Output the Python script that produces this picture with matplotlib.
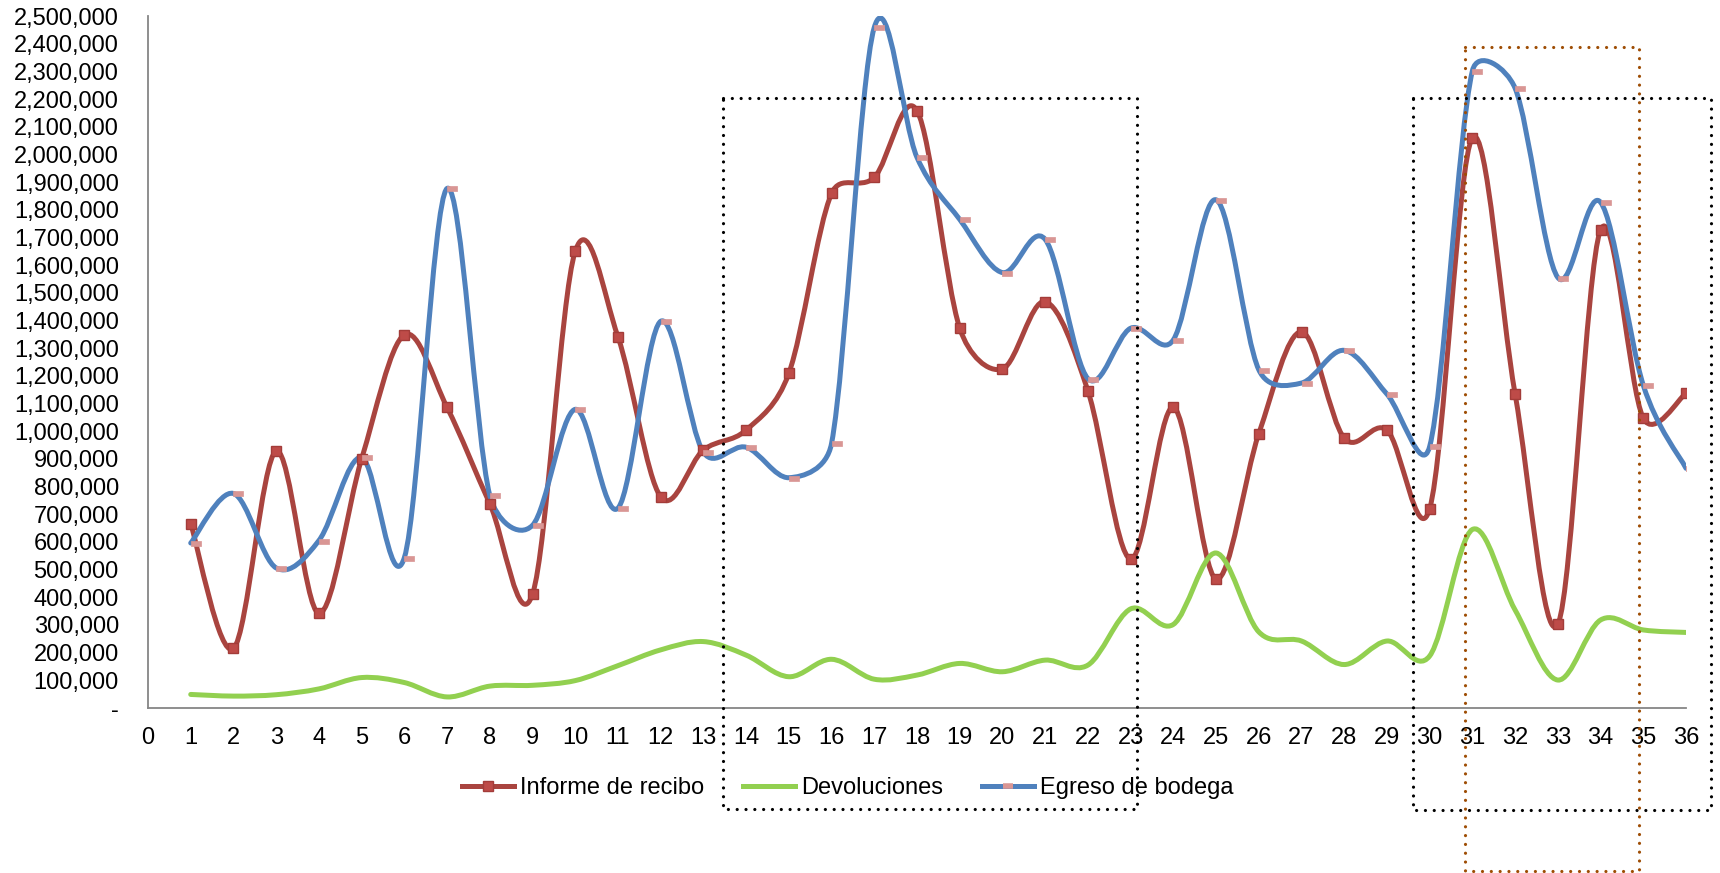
import numpy as np
import matplotlib.pyplot as plt
from matplotlib.path import Path
from matplotlib.patches import PathPatch
from matplotlib.lines import Line2D
from matplotlib.ticker import FuncFormatter

plt.rcParams['font.family'] = ['Liberation Sans', 'DejaVu Sans']

# data
periodos = list(range(1, 37))
informe_recibo = [665000, 215000, 928000, 342000, 900000, 1348000, 1086000, 738000, 411000, 1650000,
                  1341000, 763000, 932000, 1004000, 1209000, 1859000, 1917000, 2158000, 1372000, 1225000,
                  1468000, 1146000, 538000, 1086000, 466000, 991000, 1359000, 975000, 1004000, 720000,
                  2060000, 1134000, 303000, 1727000, 1047000, 1137000]
devoluciones = [49000, 43000, 48000, 69000, 110000, 92000, 40000, 79000, 82000, 99000,
                153000, 210000, 240000, 191000, 113000, 176000, 104000, 119000, 161000, 131000,
                173000, 155000, 358000, 302000, 560000, 275000, 242000, 157000, 242000, 188000,
                645000, 354000, 101000, 318000, 282000, 273000]
egreso_bodega = [596000, 775000, 506000, 605000, 905000, 543000, 1877000, 768000, 660000, 1079000,
                 722000, 1397000, 924000, 942000, 832000, 956000, 2459000, 1989000, 1765000, 1573000,
                 1693000, 1190000, 1372000, 1330000, 1836000, 1222000, 1174000, 1292000, 1134000, 945000,
                 2302000, 2239000, 1555000, 1827000, 1166000, 866000]
series_names = ['Informe de recibo', 'Devoluciones', 'Egreso de bodega']

ROJO = '#A9443F'
VERDE = '#92D050'
AZUL = '#4F81BD'

# pixel scale of the plot area, used so the smoothing behaves like Excel's (screen space)
PX_X = 1538 / 36.0
PX_Y = 692 / 2500000.0


def smooth_path(xs, ys):
    # Excel-style smoothed line: bezier segments, handles = (P[i+1]-P[i-1])/6,
    # capped at half of the neighbouring segment length
    p = np.column_stack([xs, ys]).astype(float)
    sc = np.array([PX_X, PX_Y])
    q = p * sc
    n = len(p)
    verts = [p[0]]
    codes = [Path.MOVETO]

    def handle(i, j):
        # handle at point i pointing toward neighbour j
        a = q[i - 1] if i > 0 else q[i]
        b = q[i + 1] if i + 1 < n else q[i]
        t = (b - a) / 6.0
        lt = np.hypot(*t)
        seg = np.hypot(*(q[j] - q[i])) / 2.0
        if lt > seg and lt > 0:
            t = t * seg / lt
        return t if j > i else -t

    for i in range(n - 1):
        c1 = (q[i] + handle(i, i + 1)) / sc
        c2 = (q[i + 1] + handle(i + 1, i)) / sc
        verts += [c1, c2, p[i + 1]]
        codes += [Path.CURVE4] * 3
    return Path(verts, codes)


fig = plt.figure(figsize=(17.2, 8.73), dpi=100)
ax = fig.add_axes([0.08605, 0.18900, 0.89419, 0.79267])

for ys, col in [(informe_recibo, ROJO), (devoluciones, VERDE), (egreso_bodega, AZUL)]:
    ax.add_patch(PathPatch(smooth_path(periodos, ys), fill=False, edgecolor=col,
                           lw=3.6, capstyle='round', joinstyle='round'))

# markers
ax.plot(periodos, informe_recibo, linestyle='none', marker='s', ms=6.5,
        mfc='#BE4B48', mec='#A33C39', mew=1, zorder=3)
dash = Path([(0, -0.25), (1, -0.25), (1, 0.25), (0, 0.25), (0, -0.25)])
ax.plot(periodos, egreso_bodega, linestyle='none', marker=dash, ms=14.4,
        mfc='#D99694', mec='#D99694', mew=0.5, zorder=3)

ax.set_xlim(0, 36)
ax.set_ylim(0, 2500000)
ax.set_xticks(range(0, 37))
ax.set_yticks(range(0, 2500001, 100000))
ax.yaxis.set_major_formatter(FuncFormatter(lambda v, _: '-' if v == 0 else f'{int(v):,}'))
ax.tick_params(axis='both', length=0, labelsize=17, colors='black')
ax.tick_params(axis='y', pad=21)
ax.tick_params(axis='x', pad=14)
for s in ['top', 'right']:
    ax.spines[s].set_visible(False)
for s in ['left', 'bottom']:
    ax.spines[s].set_color('#868686')
    ax.spines[s].set_linewidth(1.3)

handles = [
    Line2D([], [], color=ROJO, lw=3.6, marker='s', ms=6.5, mfc='#BE4B48', mec='#A33C39'),
    Line2D([], [], color=VERDE, lw=3.6),
    Line2D([], [], color=AZUL, lw=3.6, marker='_', ms=7, mec='#D99694', mew=4),
]
fig.legend(handles, series_names, loc='center', bbox_to_anchor=(0.493, 0.097), ncol=3,
           frameon=False, handlelength=2.2, handletextpad=0.25, columnspacing=1.65,
           prop={'size': 17})

# dotted highlight boxes (figure fractions)
def dotted_box(x0, x1, y0, y1, color):
    fig.add_artist(Line2D([x0, x1, x1, x0, x0], [y1, y1, y0, y0, y1], transform=fig.transFigure,
                          color=color, lw=2.3, linestyle=(0, (0.01, 2.75)),
                          dash_capstyle='round', zorder=5))

dotted_box(0.4203, 0.6610, 0.0733, 0.8877, 'black')
dotted_box(0.8215, 0.9948, 0.0722, 0.8877, 'black')
dotted_box(0.8517, 0.9529, 0.0023, 0.9462, '#9E4D04')

fig.savefig('out.png', dpi=100)
